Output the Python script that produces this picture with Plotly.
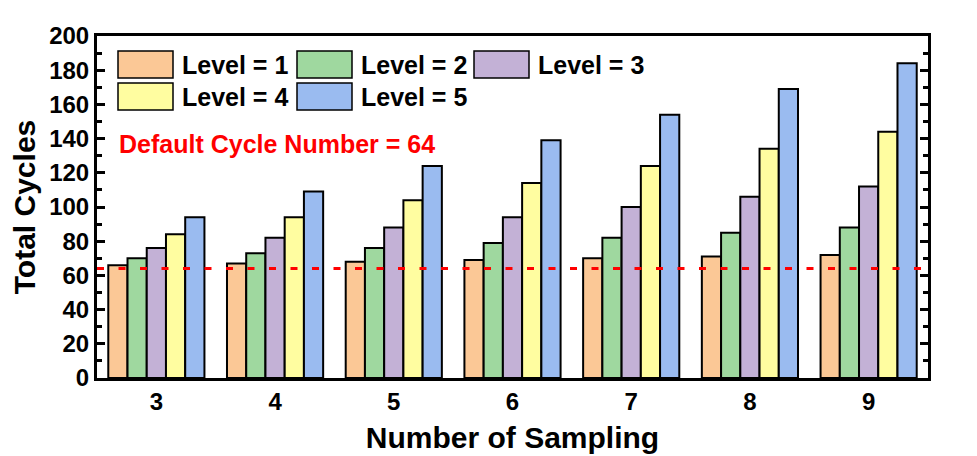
import plotly.graph_objects as go

categories = ["3", "4", "5", "6", "7", "8", "9"]
level_names = ["Level = 1", "Level = 2", "Level = 3", "Level = 4", "Level = 5"]
level1 = [66, 67, 68, 69, 70, 71, 72]
level2 = [70, 73, 76, 79, 82, 85, 88]
level3 = [76, 82, 88, 94, 100, 106, 112]
level4 = [84, 94, 104, 114, 124, 134, 144]
level5 = [94, 109, 124, 139, 154, 169, 184]
default_cycles = 64
colors = ["#FBC896", "#9FD89F", "#C3B1D6", "#FFFDA0", "#9ABBF0"]

series = [level1, level2, level3, level4, level5]
FONT = "Arial, Liberation Sans, sans-serif"

fig = go.Figure()
for name, vals, col in zip(level_names, series, colors):
    fig.add_trace(go.Bar(
        x=categories, y=vals, name=name,
        marker=dict(color=col, line=dict(color="black", width=2)),
        showlegend=False,
    ))

# default cycle line
fig.add_shape(type="line", xref="paper", yref="y", x0=0, x1=1,
              y0=default_cycles, y1=default_cycles,
              line=dict(color="#FF0000", width=3, dash="7px,14.5px"), layer="above")
fig.add_annotation(xref="paper", yref="y", x=0.024, y=137, xanchor="left",
                   text="Default Cycle Number = %d" % default_cycles, showarrow=False,
                   font=dict(family=FONT, size=25, color="#FF0000", weight="bold"))

# legend drawn as swatches
plot_l, plot_w, plot_b, plot_h = 97, 831, 378, 342
col_x = [118, 297, 474]
row_y = [51, 83]
sw_w, sw_h = 55, 27
for i, (name, col) in enumerate(zip(level_names, colors)):
    r, c = divmod(i, 3)
    x0 = (col_x[c] - plot_l) / plot_w
    x1 = (col_x[c] + sw_w - plot_l) / plot_w
    y1 = (plot_b - row_y[r]) / plot_h
    y0 = (plot_b - row_y[r] - sw_h) / plot_h
    fig.add_shape(type="rect", xref="paper", yref="paper", x0=x0, x1=x1, y0=y0, y1=y1,
                  fillcolor=col, line=dict(color="black", width=1.5))
    fig.add_annotation(xref="paper", yref="paper", x=(col_x[c] + sw_w + 7 - plot_l) / plot_w,
                       y=(y0 + y1) / 2, xanchor="left", yanchor="middle", showarrow=False,
                       text=name, font=dict(family=FONT, size=25, color="black", weight="bold"))

fig.update_layout(
    width=977, height=456,
    margin=dict(l=89, r=57, t=28, b=86),
    paper_bgcolor="white", plot_bgcolor="white",
    barmode="group", bargap=0.19, bargroupgap=0,
    font=dict(family=FONT, color="black"),
    xaxis=dict(
        title=dict(text="Number of Sampling", font=dict(size=30, weight="bold"), standoff=14),
        tickfont=dict(size=24, weight="bold"),
        showline=True, linecolor="black", linewidth=3, mirror=True,
        ticks="", showgrid=False,
    ),
    yaxis=dict(
        title=dict(text="Total Cycles", font=dict(size=30, weight="bold"), standoff=6),
        range=[0, 200], dtick=20, tick0=0,
        tickfont=dict(size=24, weight="bold"),
        showline=True, linecolor="black", linewidth=3, mirror="ticks",
        ticks="inside", ticklen=8, tickwidth=3, tickcolor="black",
        minor=dict(ticks="inside", ticklen=5, tickwidth=3, dtick=10, tickcolor="black"),
        showgrid=False, zeroline=False,
    ),
)

fig.write_html("out.html")
